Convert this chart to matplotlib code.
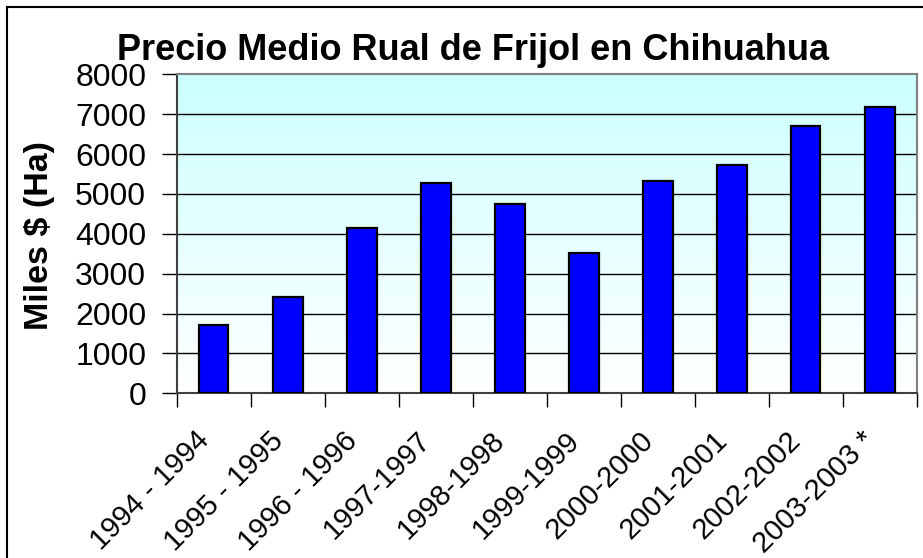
import matplotlib
matplotlib.use("Agg")
import matplotlib.pyplot as plt
import matplotlib.transforms as mtransforms
from matplotlib.lines import Line2D
import numpy as np

plt.rcParams['font.family'] = ['Liberation Sans', 'DejaVu Sans']

categories = ["1994 - 1994", "1995 - 1995", "1996 - 1996", "1997-1997", "1998-1998",
              "1999-1999", "2000-2000", "2001-2001", "2002-2002", "2003-2003 *"]
values = [1710, 2410, 4140, 5285, 4760, 3510, 5335, 5735, 6715, 7175]
yticks = [0, 1000, 2000, 3000, 4000, 5000, 6000, 7000, 8000]

title = "Precio Medio Rual de Frijol en Chihuahua"
ylabel = "Miles $ (Ha)"

W, H = 923, 558
fig = plt.figure(figsize=(W / 100, H / 100), dpi=100)
fig.patch.set_facecolor("white")

left, right, top, bottom = 176.7, 916.7, 74.4, 393.3
ax = fig.add_axes([left / W, 1 - bottom / H, (right - left) / W, (bottom - top) / H])

n = len(categories)
x = np.arange(n)
ax.set_xlim(-0.5, n - 0.5)
ax.set_ylim(0, 8000)

# gradient background
grad = np.linspace(0, 1, 256).reshape(-1, 1)
top_col = np.array([0.80, 1.0, 1.0])
bot_col = np.array([1.0, 1.0, 1.0])
img = bot_col * (1 - grad)[:, :, None] + top_col * grad[:, :, None]
ax.imshow(img, extent=[-0.5, n - 0.5, 0, 8000], origin="lower", aspect="auto", zorder=0)

for yv in yticks[1:-1]:
    ax.axhline(yv, color="black", linewidth=1.0, zorder=1)

ax.bar(x, values, width=0.4, color="#0000FF", edgecolor="black", linewidth=1.6, zorder=3)

ax.set_yticks(yticks)
ax.set_yticklabels([str(v) for v in yticks], fontsize=23)
ax.tick_params(axis="y", direction="out", length=11, width=1, pad=11, colors="black")

ax.set_xticks(np.arange(-0.5, n, 1.0))
ax.set_xticklabels([])
ax.tick_params(axis="x", direction="out", length=10, width=1, colors="black")

trans = ax.get_xaxis_transform() + mtransforms.ScaledTranslation(-9 / 100, -43 / 100, fig.dpi_scale_trans)
for xi, lab in zip(x, categories):
    ax.text(xi, 0, lab, transform=trans, rotation=45, rotation_mode="anchor",
            ha="right", va="center", fontsize=21)

for side in ["top", "right"]:
    ax.spines[side].set_color("#808080")
    ax.spines[side].set_linewidth(1.5)
ax.spines["left"].set_color("#404040")
ax.spines["bottom"].set_color("#404040")
ax.spines["left"].set_linewidth(1.5)
ax.spines["bottom"].set_linewidth(1.5)

fig.text(473 / W, 1 - 51 / H, title, fontsize=26, fontweight="bold", ha="center", va="center")
fig.text(40 / W, 1 - 236 / H, ylabel, fontsize=24.5, fontweight="bold", rotation=90,
         ha="center", va="center")

# outer frame (left and top edges)
fig.add_artist(Line2D([7.5 / W, 7.5 / W], [0, 1 - 6.5 / H], transform=fig.transFigure,
                      color="black", linewidth=1.5))
fig.add_artist(Line2D([7.5 / W, 1], [1 - 6.5 / H, 1 - 6.5 / H], transform=fig.transFigure,
                      color="black", linewidth=1.5))

fig.savefig("out.png", dpi=100)
